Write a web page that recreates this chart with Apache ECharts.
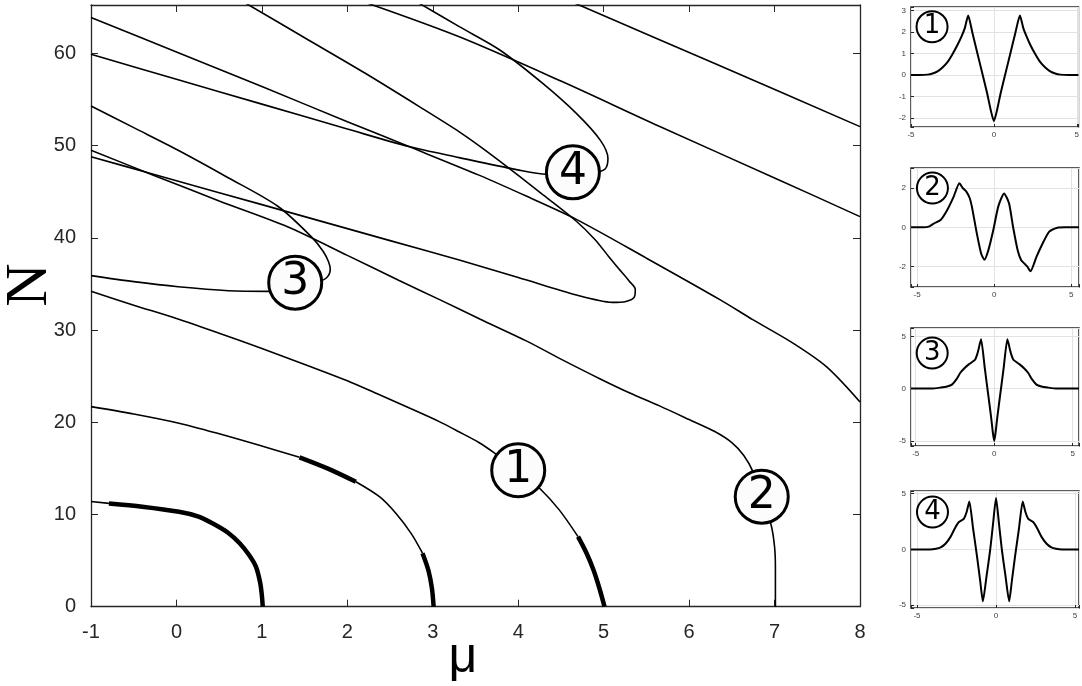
<!DOCTYPE html>
<html>
<head>
<meta charset="utf-8">
<script src="https://cdn.jsdelivr.net/npm/echarts@6/dist/echarts.min.js"></script>
<style>
html, body { margin: 0; padding: 0; background: #fff; }
#chart { width: 1082px; height: 686px; }
</style>
</head>
<body>
<div id="chart"></div>
<script>
// branches of the N(mu) diagram, points are [mu, N]
const curveA = [[-1.0, 11.4], [-0.79, 11.2]];
const curveAThick = [[-0.79, 11.2], [-0.4, 10.85], [0.03, 10.3], [0.25, 9.8], [0.42, 9.05], [0.6, 8.05], [0.74, 6.88], [0.85, 5.6], [0.93, 4.34], [0.98, 2.6], [1.0, 1.2], [1.01, 0]];

const curveB = [[-1.0, 21.7], [-0.5, 20.9], [0.03, 19.9], [0.5, 18.75], [0.97, 17.5], [1.44, 16.2]];
const curveBThick1 = [[1.44, 16.2], [1.78, 14.95], [2.1, 13.55]];
const curveBMid = [[2.1, 13.55], [2.38, 11.9], [2.57, 10.1], [2.75, 7.9], [2.88, 5.8]];
const curveBThick2 = [[2.88, 5.8], [2.95, 3.9], [2.99, 2.0], [3.01, 0]];

const curveC = [[-1.0, 34.2], [-0.5, 32.7], [0, 31.25], [0.5, 29.65], [1.0, 28.0], [1.58, 26.0], [2.0, 24.5], [2.37, 23.0], [2.7, 21.65], [3.07, 20.1], [3.3, 19.0], [3.54, 17.8], [3.74, 16.55], [4.0, 14.8], [4.25, 12.85], [4.48, 10.5], [4.70, 7.6]];
const curveCThick = [[4.70, 7.6], [4.80, 5.8], [4.88, 4.0], [4.95, 2.0], [5.01, 0]];

const curveD = [[-1.0, 49.5], [-0.27, 46.8], [0.5, 44.0], [1.3, 41.2], [2.0, 38.1], [2.6, 35.4], [3.08, 33.3], [3.55, 31.2], [4.1, 28.8], [4.5, 26.85], [4.96, 24.7], [5.3, 23.2], [5.66, 21.75], [6.0, 20.3], [6.3, 19.0], [6.5, 17.8], [6.64, 16.4], [6.75, 14.6], [6.85, 11.9], [6.96, 8.86], [7.0, 6.5], [7.01, 4.3], [7.01, 0]];

const curve3 = [[-1.0, 54.3], [-0.5, 51.95], [0.02, 49.5], [0.6, 46.55], [1.19, 43.4], [1.58, 40.1], [1.72, 38.5], [1.78, 37.4], [1.80, 36.6], [1.76, 35.7], [1.66, 35.3], [1.39, 35.14], [1.08, 34.2], [0.61, 34.27], [0.02, 34.7], [-0.5, 35.25], [-1.0, 35.9]];

const curve4 = [[2.83, 65.5], [3.31, 62.9], [3.78, 60.4], [4.28, 56.8], [4.68, 53.5], [4.96, 50.6], [5.05, 48.6], [5.02, 47.5], [4.9, 47.1], [4.64, 47.1], [4.33, 46.9], [3.98, 47.4], [3.31, 48.7], [2.72, 49.9], [2.0, 51.8], [1.0, 54.5], [0.0, 57.2], [-1.0, 59.9]];

const curveFold = [[0.80, 65.5], [1.5, 61.7], [2.2, 57.9], [2.9, 53.9], [3.31, 51.5], [3.6, 49.6], [3.97, 47.0], [4.3, 44.6], [4.68, 41.8], [4.9, 39.8], [5.06, 37.96], [5.2, 36.4], [5.3, 35.3], [5.37, 34.4], [5.36, 33.6], [5.26, 33.1], [5.1, 33.0], [4.9, 33.3], [4.68, 33.8], [4.0, 35.7], [3.31, 37.6], [2.5, 39.7], [1.5, 42.3], [0.5, 44.9], [-0.27, 46.9], [-1.0, 48.8]];

const curveLong = [[-1.0, 63.9], [0, 60.15], [1, 56.4], [2, 52.6], [2.72, 49.9], [3.54, 46.8], [4.1, 44.5], [4.68, 42.0], [5.5, 37.8], [6.36, 33.3], [6.75, 31.1], [7.22, 28.55], [7.61, 26.0], [8.0, 22.2]];
const curveUpper = [[2.22, 65.5], [3.31, 61.8], [4.5, 57.0], [5.65, 52.1], [7.0, 46.5], [8.0, 42.3]];
const curveTop = [[4.65, 65.5], [6.3, 58.9], [8.0, 52.06]];

// numbered markers on the diagram
const markMu = [4.0, 6.85, 1.39, 4.64];
const markN = [14.8, 11.93, 35.14, 47.1];
const markText = ['1', '2', '3', '4'];

// profiles shown in the small panels
const prof1X = [-5, -4.5, -4, -3.7, -3.4, -3.1, -2.8, -2.5, -2.2, -1.95, -1.75, -1.55, -1.3, -1.0, -0.7, -0.4, -0.2, 0, 0.2, 0.4, 0.7, 1.0, 1.3, 1.57, 1.77, 1.97, 2.2, 2.5, 2.8, 3.1, 3.4, 3.7, 4, 4.5, 5.1];
const prof1Y = [0, 0, 0.02, 0.07, 0.17, 0.35, 0.6, 0.97, 1.4, 1.8, 2.2, 2.77, 1.98, 1.03, 0.08, -0.87, -1.6, -2.15, -1.6, -0.87, 0.08, 1.03, 1.98, 2.77, 2.2, 1.8, 1.4, 0.97, 0.6, 0.35, 0.17, 0.07, 0.02, 0, 0];

const prof2X = [-5.4, -4.6, -4.2, -3.9, -3.48, -3.05, -2.63, -2.26, -2.05, -1.8, -1.6, -1.45, -1.13, -0.85, -0.64, -0.38, -0.06, 0.26, 0.64, 0.96, 1.22, 1.52, 1.75, 1.97, 2.15, 2.35, 2.74, 3.14, 3.57, 4.1, 4.6, 5.5];
const prof2Y = [0, 0, 0.05, 0.2, 0.37, 0.88, 1.56, 2.24, 2.0, 1.8, 1.5, 1.05, -0.31, -1.33, -1.65, -1.16, -0.14, 1.05, 1.72, 1.22, 0.03, -1.16, -1.67, -1.85, -2.0, -2.23, -1.5, -0.82, -0.22, -0.02, 0, 0];

const prof3X = [-5.3, -4, -3.4, -3.0, -2.69, -2.4, -2.17, -1.9, -1.64, -1.4, -1.22, -1.1, -1.0, -0.84, -0.6, -0.38, -0.2, -0.08, 0, 0.08, 0.2, 0.38, 0.6, 0.84, 1.0, 1.1, 1.22, 1.4, 1.64, 1.9, 2.17, 2.4, 2.69, 3.0, 3.4, 4, 5.4];
const prof3Y = [0, 0, 0.1, 0.2, 0.38, 0.9, 1.49, 1.95, 2.29, 2.55, 2.76, 3.2, 3.75, 4.73, 1.95, -0.6, -2.7, -4.3, -5.02, -4.3, -2.7, -0.6, 1.95, 4.73, 3.75, 3.2, 2.76, 2.55, 2.29, 1.95, 1.49, 0.9, 0.38, 0.2, 0.1, 0, 0];

const prof4X = [-5.38, -4.2, -3.8, -3.5, -3.2, -2.88, -2.6, -2.35, -2.04, -1.85, -1.69, -1.45, -1.21, -1.0, -0.83, -0.6, -0.375, -0.18, 0, 0.18, 0.375, 0.6, 0.83, 1.0, 1.21, 1.45, 1.69, 1.85, 2.04, 2.35, 2.6, 2.88, 3.2, 3.5, 3.8, 4.2, 5.25];
const prof4Y = [0, 0, 0.05, 0.18, 0.5, 1.12, 1.9, 2.45, 2.74, 3.4, 4.29, 1.85, -0.55, -2.85, -4.65, -2.4, -0.1, 2.4, 4.61, 2.4, -0.1, -2.4, -4.65, -2.85, -0.55, 1.85, 4.29, 3.4, 2.74, 2.45, 1.9, 1.12, 0.5, 0.18, 0.05, 0, 0];

// panel ranges and label spots
const panelXRange = [[-5, 5.1], [-5.4, 5.5], [-5.3, 5.4], [-5.38, 5.25]];
const panelYRange = [[-2.42, 3.17], [-3.03, 3.01], [-5.5, 5.8], [-5.25, 5.23]];
const panelYStep = [1, 2, 5, 5];
const panelLabelX = [-3.73, -4.01, -3.95, -4.02];
const panelLabelY = [2.25, 1.99, 3.4, 3.34];

const axisColor = '#262626';
const chart = echarts.init(document.getElementById('chart'));

const mainLine = (data, w) => ({
    type: 'line', xAxisIndex: 0, yAxisIndex: 0, data: data,
    showSymbol: false, smooth: 0.3, z: 2, silent: true,
    lineStyle: { color: '#000', width: w }
});

const series = [
    mainLine(curveA, 1.6), mainLine(curveAThick, 4.5),
    mainLine(curveB, 1.6), mainLine(curveBThick1, 4.5), mainLine(curveBMid, 1.6), mainLine(curveBThick2, 4.5),
    mainLine(curveC, 1.6), mainLine(curveCThick, 4.5),
    mainLine(curveD, 1.6),
    mainLine(curve3, 1.6), mainLine(curve4, 1.6), mainLine(curveFold, 1.6),
    mainLine(curveLong, 1.6), mainLine(curveUpper, 1.6), mainLine(curveTop, 1.6),
    {
        type: 'scatter', xAxisIndex: 0, yAxisIndex: 0, z: 5, silent: true,
        symbolSize: 53,
        data: markMu.map((m, i) => ({ value: [m, markN[i]], name: markText[i] })),
        itemStyle: { color: '#fcfcfc', borderColor: '#000', borderWidth: 3, opacity: 1 },
        label: { show: true, position: 'inside', formatter: '{b}', fontSize: 44, fontFamily: 'DejaVu Sans', color: '#000' }
    }
];

const profX = [prof1X, prof2X, prof3X, prof4X];
const profY = [prof1Y, prof2Y, prof3Y, prof4Y];
profX.forEach((xs, i) => {
    series.push({
        type: 'line', xAxisIndex: i + 2, yAxisIndex: i + 2, silent: true,
        data: xs.map((x, k) => [x, profY[i][k]]),
        showSymbol: false, smooth: 0.2, z: 2,
        lineStyle: { color: '#000', width: 2 }
    });
    series.push({
        type: 'scatter', xAxisIndex: i + 2, yAxisIndex: i + 2, z: 5, silent: true,
        symbolSize: 31,
        data: [{ value: [panelLabelX[i], panelLabelY[i]], name: markText[i] }],
        itemStyle: { color: '#fff', borderColor: '#000', borderWidth: 2, opacity: 1 },
        label: { show: true, position: 'inside', formatter: '{b}', fontSize: 26, fontFamily: 'DejaVu Sans', color: '#000' }
    });
});

const panelTops = [7, 168, 328, 491];
const panelHeights = [120, 119, 118, 117];

const grids = [{ left: 91, top: 5, width: 769, height: 601.7 }];
panelTops.forEach((t, i) => {
    grids.push({ left: 911, top: t, width: 169, height: panelHeights[i], show: true, backgroundColor: '#fff', borderColor: axisColor, borderWidth: 1.5 });
});

const tickFont = { fontFamily: 'Liberation Sans', fontSize: 20, color: axisColor };
const mainAxisLine = { show: true, onZero: false, lineStyle: { color: axisColor, width: 1.3 } };
const mainTick = { show: true, inside: true, length: 7, lineStyle: { color: axisColor } };
const xAxes = [
    {
        gridIndex: 0, type: 'value', min: -1, max: 8, interval: 1, position: 'bottom',
        axisLine: mainAxisLine, axisTick: mainTick,
        axisLabel: Object.assign({ margin: 16 }, tickFont),
        splitLine: { show: false }
    },
    {
        gridIndex: 0, type: 'value', min: -1, max: 8, interval: 1, position: 'top',
        axisLine: mainAxisLine, axisTick: mainTick,
        axisLabel: { show: false }, splitLine: { show: false }
    }
];
const yAxes = [
    {
        gridIndex: 0, type: 'value', min: 0, max: 65.25, splitNumber: 6, position: 'left',
        axisLine: mainAxisLine, axisTick: mainTick,
        axisLabel: Object.assign({ margin: 15, formatter: v => (v % 10 === 0 ? String(v) : '') }, tickFont),
        splitLine: { show: false }
    },
    {
        gridIndex: 0, type: 'value', min: 0, max: 65.25, splitNumber: 6, position: 'right',
        axisLine: mainAxisLine, axisTick: mainTick,
        axisLabel: { show: false }, splitLine: { show: false }
    }
];
const smallFont = { fontFamily: 'Liberation Sans', fontSize: 8, color: '#404040' };
panelXRange.forEach((r, i) => {
    xAxes.push({
        gridIndex: i + 1, type: 'value', min: r[0], max: r[1], splitNumber: 2, position: 'bottom',
        axisLine: { show: false, onZero: false },
        axisTick: { show: true, inside: true, length: 3, lineStyle: { color: axisColor } },
        axisLabel: Object.assign({ margin: 4, formatter: v => (Math.abs(v % 5) < 1e-9 ? String(v) : '') }, smallFont),
        splitLine: { show: true, lineStyle: { color: '#e2e2e2', width: 1 } }
    });
    yAxes.push({
        gridIndex: i + 1, type: 'value', min: panelYRange[i][0], max: panelYRange[i][1], position: 'left',
        splitNumber: Math.round((panelYRange[i][1] - panelYRange[i][0]) / panelYStep[i]),
        axisLine: { show: false, onZero: false },
        axisTick: { show: true, inside: true, length: 3, lineStyle: { color: axisColor } },
        axisLabel: Object.assign({ margin: 5, formatter: v => (Math.abs(v % panelYStep[i]) < 1e-9 ? String(v) : '') }, smallFont),
        splitLine: { show: true, lineStyle: { color: '#e2e2e2', width: 1 } }
    });
});

const option = {
    animation: false,
    backgroundColor: '#fff',
    grid: grids,
    xAxis: xAxes,
    yAxis: yAxes,
    series: series,
    graphic: [
        { type: 'text', x: 30, y: 285, rotation: Math.PI / 2, silent: true,
          style: { text: 'N', fontSize: 60, fontFamily: 'Liberation Serif', fill: '#000', align: 'center', verticalAlign: 'middle' } },
        { type: 'text', x: 463, y: 658, silent: true,
          style: { text: 'μ', fontSize: 50, fontFamily: 'Liberation Sans', fill: '#000', align: 'center', verticalAlign: 'middle' } }
    ]
};
chart.setOption(option);
</script>
</body>
</html>
